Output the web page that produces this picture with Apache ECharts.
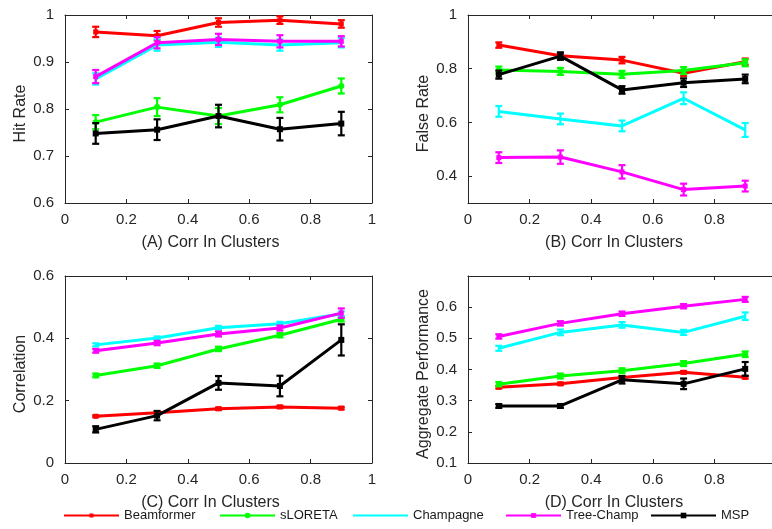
<!DOCTYPE html>
<html><head><meta charset="utf-8">
<script src="https://cdn.jsdelivr.net/npm/echarts@6/dist/echarts.min.js"></script>
<style>html,body{margin:0;padding:0;background:#fff}#c{width:772px;height:529px}</style>
</head><body><div id="c"></div>
<script>
// ---------- data ----------
const xValues = [0.1, 0.3, 0.5, 0.7, 0.9];
const methods = ['Beamformer', 'sLORETA', 'Champagne', 'Tree-Champ', 'MSP'];
const methodColors = ['#ff0000', '#00ff00', '#00ffff', '#ff00ff', '#000000'];
const xTickLabels = ['0', '0.2', '0.4', '0.6', '0.8', '1'];

// (A) Hit Rate
const hitBeamformer = [0.964, 0.956, 0.984, 0.989, 0.981];
const hitBeamformerErr = [0.011, 0.010, 0.009, 0.008, 0.008];
const hitSloreta = [0.772, 0.804, 0.785, 0.809, 0.849];
const hitSloretaErr = [0.015, 0.019, 0.017, 0.016, 0.016];
const hitChampagne = [0.864, 0.936, 0.942, 0.936, 0.941];
const hitChampagneErr = [0.012, 0.012, 0.010, 0.012, 0.010];
const hitTreeChamp = [0.869, 0.941, 0.948, 0.944, 0.944];
const hitTreeChampErr = [0.014, 0.012, 0.012, 0.013, 0.011];
const hitMsp = [0.748, 0.756, 0.785, 0.757, 0.769];
const hitMspErr = [0.022, 0.022, 0.024, 0.024, 0.025];

// (B) False Rate
const falseBeamformer = [0.888, 0.848, 0.832, 0.783, 0.826];
const falseBeamformerErr = [0.010, 0.010, 0.012, 0.010, 0.012];
const falseSloreta = [0.795, 0.790, 0.779, 0.793, 0.822];
const falseSloretaErr = [0.013, 0.013, 0.013, 0.013, 0.013];
const falseChampagne = [0.641, 0.613, 0.587, 0.690, 0.572];
const falseChampagneErr = [0.020, 0.020, 0.020, 0.022, 0.026];
const falseTreeChamp = [0.469, 0.471, 0.416, 0.350, 0.363];
const falseTreeChampErr = [0.020, 0.025, 0.025, 0.022, 0.020];
const falseMsp = [0.778, 0.847, 0.721, 0.748, 0.762];
const falseMspErr = [0.015, 0.014, 0.014, 0.016, 0.016];

// (C) Correlation
const corrBeamformer = [0.150, 0.161, 0.174, 0.180, 0.176];
const corrBeamformerErr = [0.003, 0.004, 0.004, 0.004, 0.004];
const corrSloreta = [0.281, 0.312, 0.366, 0.410, 0.461];
const corrSloretaErr = [0.006, 0.007, 0.007, 0.007, 0.007];
const corrChampagne = [0.379, 0.401, 0.434, 0.447, 0.479];
const corrChampagneErr = [0.005, 0.005, 0.006, 0.006, 0.007];
const corrTreeChamp = [0.360, 0.385, 0.414, 0.433, 0.481];
const corrTreeChampErr = [0.006, 0.007, 0.008, 0.008, 0.015];
const corrMsp = [0.108, 0.152, 0.257, 0.247, 0.395];
const corrMspErr = [0.010, 0.015, 0.022, 0.033, 0.050];

// (D) Aggregate Performance
const aggBeamformer = [0.343, 0.354, 0.374, 0.391, 0.375];
const aggBeamformerErr = [0.004, 0.004, 0.004, 0.004, 0.004];
const aggSloreta = [0.353, 0.379, 0.396, 0.419, 0.449];
const aggSloretaErr = [0.007, 0.008, 0.008, 0.008, 0.009];
const aggChampagne = [0.468, 0.519, 0.543, 0.519, 0.571];
const aggChampagneErr = [0.008, 0.009, 0.009, 0.008, 0.012];
const aggTreeChamp = [0.506, 0.548, 0.579, 0.603, 0.625];
const aggTreeChampErr = [0.007, 0.007, 0.007, 0.007, 0.008];
const aggMsp = [0.283, 0.283, 0.367, 0.354, 0.402];
const aggMspErr = [0.006, 0.006, 0.012, 0.017, 0.022];

const yTicksA = [0.6, 0.7, 0.8, 0.9, 1];
const yTicksB = [0.4, 0.6, 0.8, 1];
const yTicksC = [0, 0.2, 0.4, 0.6];
const yTicksD = [0.1, 0.2, 0.3, 0.4, 0.5, 0.6];

// ---------- layout / style ----------
const FONT = 'Liberation Sans, Arial, Helvetica, sans-serif';
const AX = '#262626';
const panels = [
  { grid: { left: 65, top: 15, width: 307, height: 188 }, yName: 'Hit Rate', xName: '(A) Corr In Clusters',
    yMin: 0.6, yMax: 1, yInt: 0.1, yTicks: yTicksA,
    vals: [hitBeamformer, hitSloreta, hitChampagne, hitTreeChamp, hitMsp],
    errs: [hitBeamformerErr, hitSloretaErr, hitChampagneErr, hitTreeChampErr, hitMspErr] },
  { grid: { left: 468, top: 15, width: 308, height: 188 }, yName: 'False Rate', xName: '(B) Corr In Clusters',
    yMin: 0.3, yMax: 1, yInt: 0.1, yTicks: yTicksB,
    vals: [falseBeamformer, falseSloreta, falseChampagne, falseTreeChamp, falseMsp],
    errs: [falseBeamformerErr, falseSloretaErr, falseChampagneErr, falseTreeChampErr, falseMspErr] },
  { grid: { left: 65, top: 276, width: 307, height: 187 }, yName: 'Correlation', xName: '(C) Corr In Clusters',
    yMin: 0, yMax: 0.6, yInt: 0.2, yTicks: yTicksC,
    vals: [corrBeamformer, corrSloreta, corrChampagne, corrTreeChamp, corrMsp],
    errs: [corrBeamformerErr, corrSloretaErr, corrChampagneErr, corrTreeChampErr, corrMspErr] },
  { grid: { left: 468, top: 276, width: 308, height: 187 }, yName: 'Aggregate Performance', xName: '(D) Corr In Clusters',
    yMin: 0.1, yMax: 0.7, yInt: 0.1, yTicks: yTicksD,
    vals: [aggBeamformer, aggSloreta, aggChampagne, aggTreeChamp, aggMsp],
    errs: [aggBeamformerErr, aggSloretaErr, aggChampagneErr, aggTreeChampErr, aggMspErr] }
];
const symbols = ['rect', 'circle', 'none', 'rect', 'rect'];
const symbolSizes = [5, 6, 0, 5, 6];

const fmt = v => String(+(+v).toFixed(2));
const grids = [], xAxes = [], yAxes = [], series = [];

panels.forEach((p, i) => {
  grids.push(Object.assign({ outerBoundsMode: 'none', containLabel: false }, p.grid));
  const xCommon = {
    gridIndex: i, type: 'value', min: 0, max: 1, interval: 0.2,
    axisLine: { show: true, onZero: false, lineStyle: { color: AX, width: 1 } },
    axisTick: { show: true, inside: true, length: 4, lineStyle: { color: AX } },
    splitLine: { show: false }
  };
  xAxes.push(Object.assign({}, xCommon, {
    position: 'bottom',
    axisLabel: { show: true, fontSize: 15, color: AX, fontFamily: FONT, margin: 9,
      formatter: v => xTickLabels[Math.round(v / 0.2)] },
    name: p.xName, nameLocation: 'middle', nameGap: 32,
    nameTextStyle: { fontSize: 16, color: AX, fontFamily: FONT, padding: [0, 16, 0, 0] }
  }));
  xAxes.push(Object.assign({}, xCommon, { position: 'top', axisLabel: { show: false } }));
  const yCommon = {
    gridIndex: i, type: 'value', min: p.yMin, max: p.yMax, interval: p.yInt,
    axisLine: { show: true, onZero: false, lineStyle: { color: AX, width: 1 } },
    axisTick: { show: true, inside: true, length: 4, lineStyle: { color: AX }, customValues: p.yTicks },
    splitLine: { show: false }
  };
  yAxes.push(Object.assign({}, yCommon, {
    position: 'left',
    axisLabel: { show: true, fontSize: 15, color: AX, fontFamily: FONT, margin: 11, formatter: fmt, customValues: p.yTicks },
    name: p.yName, nameLocation: 'middle', nameGap: 36,
    nameTextStyle: { fontSize: 16, color: AX, fontFamily: FONT, padding: [0, 9, 0, 0] }
  }));
  yAxes.push(Object.assign({}, yCommon, { position: 'right', axisLabel: { show: false } }));

  methods.forEach((m, k) => {
    const col = methodColors[k];
    const vals = p.vals[k], errs = p.errs[k];
    series.push({
      type: 'custom', xAxisIndex: i * 2, yAxisIndex: i * 2, z: 2 + k * 2,
      data: xValues.map((x, j) => [x, vals[j] - errs[j], vals[j] + errs[j]]),
      encode: { x: 0, y: [1, 2] },
      renderItem: (params, api) => {
        const x = api.value(0);
        const a = api.coord([x, api.value(1)]);
        const b = api.coord([x, api.value(2)]);
        const w = 3.5;
        const st = { stroke: col, lineWidth: 2.2 };
        return { type: 'group', children: [
          { type: 'line', shape: { x1: a[0], y1: a[1], x2: b[0], y2: b[1] }, style: st },
          { type: 'line', shape: { x1: a[0] - w, y1: a[1], x2: a[0] + w, y2: a[1] }, style: st },
          { type: 'line', shape: { x1: b[0] - w, y1: b[1], x2: b[0] + w, y2: b[1] }, style: st }
        ] };
      },
      silent: true
    });
    series.push({
      name: m, type: 'line', xAxisIndex: i * 2, yAxisIndex: i * 2, z: 3 + k * 2,
      data: xValues.map((x, j) => [x, vals[j]]),
      symbol: symbols[k], symbolSize: symbolSizes[k], showSymbol: symbols[k] !== 'none',
      lineStyle: { color: col, width: 3 }, itemStyle: { color: col },
      emphasis: { disabled: true }
    });
  });
});

const legendLefts = [63, 219, 352, 505, 650];
const legendWidths = [55, 55, 55, 55, 65];
const legendHeights = [5, 7, 7, 6, 7];
const legends = methods.map((m, k) => {
  const lg = {
    data: [m], left: legendLefts[k], top: 509, padding: 0,
    itemWidth: legendWidths[k], itemHeight: legendHeights[k], itemGap: 0,
    textStyle: { fontSize: 13, color: '#1a1a1a', fontFamily: FONT },
    selectedMode: false
  };
  if (symbols[k] === 'none') lg.itemStyle = { opacity: 0 };
  return lg;
});

const chart = echarts.init(document.getElementById('c'), null, { renderer: 'canvas' });
chart.setOption({
  animation: false,
  backgroundColor: '#fff',
  grid: grids, xAxis: xAxes, yAxis: yAxes, legend: legends, series: series
});
</script></body></html>
